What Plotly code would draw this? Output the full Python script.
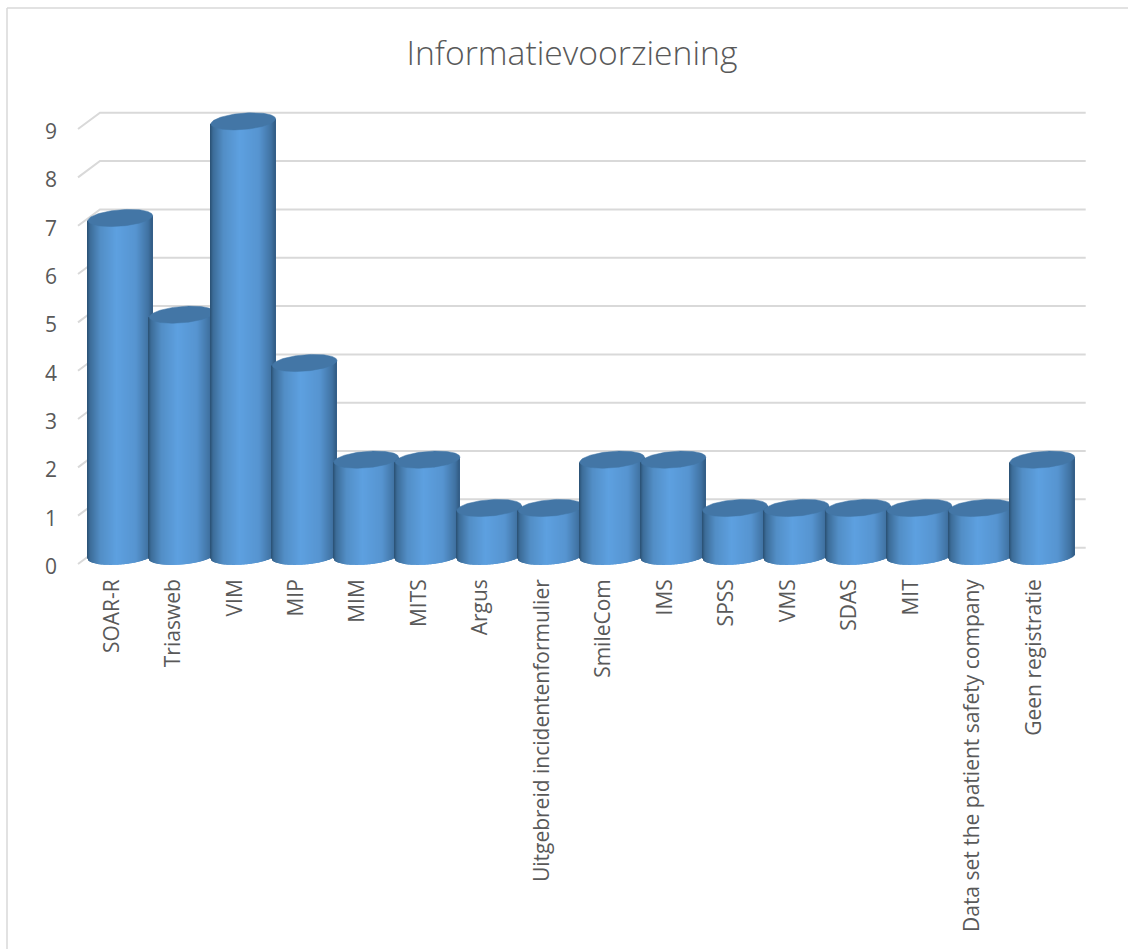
import numpy as np
import plotly.graph_objects as go

title = "Informatievoorziening"
categories = ["SOAR-R", "Triasweb", "VIM", "MIP", "MIM", "MITS", "Argus",
              "Uitgebreid incidentenformulier", "SmileCom", "IMS", "SPSS", "VMS",
              "SDAS", "MIT", "Data set the patient safety company", "Geen registratie"]
values = [7, 5, 9, 4, 2, 2, 1, 1, 2, 2, 1, 1, 1, 1, 1, 2]
y_ticks = [0, 1, 2, 3, 4, 5, 6, 7, 8, 9]

# pixel layout
W, H = 1128, 949
PL, PR, PT, PB = 70, 1095, 100, 570
X0, PITCH = 120.3, 61.47          # px centre of first bar, px per category
Y0, UNIT = 566.5, 48.33           # px of value 0 at the tick label, px per value
x_range = [(PL - X0) / PITCH, (PR - X0) / PITCH]
y_range = [(Y0 - PB) / UNIT, (Y0 - PT) / UNIT]

# 3-D look, in pixels
A, B, TILT = 32.3, 8.2, 5 / 64
FRONT_UP, CENTER_UP, BACK_UP = 2.5, 10.2, 18.8
BACK_END = 1085.7
LABEL_SHIFT = -8.5

stops_t = [-1.0, -0.92, -0.6, -0.1, 0.5, 0.88, 1.0]
stops_c = [(44, 84, 120), (60, 108, 152), (82, 142, 198), (93, 160, 224),
           (86, 148, 208), (64, 114, 162), (50, 92, 132)]
TOP_COLOR = "#4376a6"
GRID = "#d9d9d9"
TEXT = "#595959"
FONT = "Open Sans"


def strip_color(t):
    rgb = [np.interp(t, stops_t, [c[i] for c in stops_c]) for i in range(3)]
    return "rgb(%d,%d,%d)" % tuple(int(round(v)) for v in rgb)


fig = go.Figure()

# wall and side gridlines
for v in y_ticks:
    fig.add_trace(go.Scatter(
        x=[x_range[0] + (78 - PL) / PITCH, x_range[0] + (100 - PL) / PITCH, (BACK_END - X0) / PITCH],
        y=[v + FRONT_UP / UNIT, v + BACK_UP / UNIT, v + BACK_UP / UNIT],
        mode="lines", line=dict(color=GRID, width=2), hoverinfo="skip",
        showlegend=False, zorder=0))

dxs = np.arange(-A, A + 0.01, 1.0)
ts = dxs / A
colors = [strip_color(t) for t in ts]
for i, v in enumerate(values):
    half = B * np.sqrt(np.clip(1 - ts ** 2, 0, 1))
    bottom = (CENTER_UP + dxs * TILT - half) / UNIT
    top = v + (CENTER_UP + dxs * TILT) / UNIT
    fig.add_trace(go.Bar(
        x=i + dxs / PITCH, base=bottom, y=top - bottom,
        width=1.15 / PITCH, marker=dict(color=colors, line=dict(width=0)),
        hoverinfo="skip", showlegend=False, zorder=2 * i + 1))
    th = np.linspace(0, 2 * np.pi, 121)
    ex = A * np.cos(th)
    ey = CENTER_UP + ex * TILT + B * np.sin(th)
    fig.add_trace(go.Scatter(
        x=i + ex / PITCH, y=v + ey / UNIT, mode="lines", fill="toself",
        fillcolor=TOP_COLOR, line=dict(color=TOP_COLOR, width=0.5),
        hoverinfo="skip", showlegend=False, zorder=2 * i + 2))

fig.update_layout(
    width=W, height=H, autosize=False,
    margin=dict(l=PL, r=W - PR, t=PT, b=H - PB),
    paper_bgcolor="white", plot_bgcolor="rgba(0,0,0,0)",
    barmode="overlay", showlegend=False,
    font=dict(family=FONT, color=TEXT),
    title=dict(text=title, x=572 / W, xanchor="center", y=1 - 53 / H, yanchor="middle",
               font=dict(family=FONT, size=33.7, color=TEXT, weight=300)),
    xaxis=dict(range=x_range, tickmode="array",
               tickvals=[i + LABEL_SHIFT / PITCH for i in range(len(categories))],
               ticktext=categories, tickangle=-90, showgrid=False, zeroline=False,
               showline=False, ticks="", ticklabelstandoff=4,
               tickfont=dict(size=21, color=TEXT, family=FONT)),
    yaxis=dict(range=y_range, tickmode="array", tickvals=y_ticks,
               ticktext=[str(v) for v in y_ticks], showgrid=False, zeroline=False,
               showline=False, ticks="", ticklabelstandoff=12,
               tickfont=dict(size=21, color=TEXT, family=FONT)),
    shapes=[
        dict(type="line", xref="paper", yref="paper", x0=(7 - PL) / (PR - PL), x1=(7 - PL) / (PR - PL),
             y0=(PB - H) / (PB - PT), y1=(PB - 8) / (PB - PT), line=dict(color=GRID, width=1.5)),
        dict(type="line", xref="paper", yref="paper", x0=(7 - PL) / (PR - PL), x1=(1128 - PL) / (PR - PL),
             y0=(PB - 8) / (PB - PT), y1=(PB - 8) / (PB - PT), line=dict(color=GRID, width=1.5)),
    ],
)

fig.write_html("out.html", config=dict(displayModeBar=False),
               post_script="document.body.style.margin='0';document.documentElement.style.overflow='hidden';")
